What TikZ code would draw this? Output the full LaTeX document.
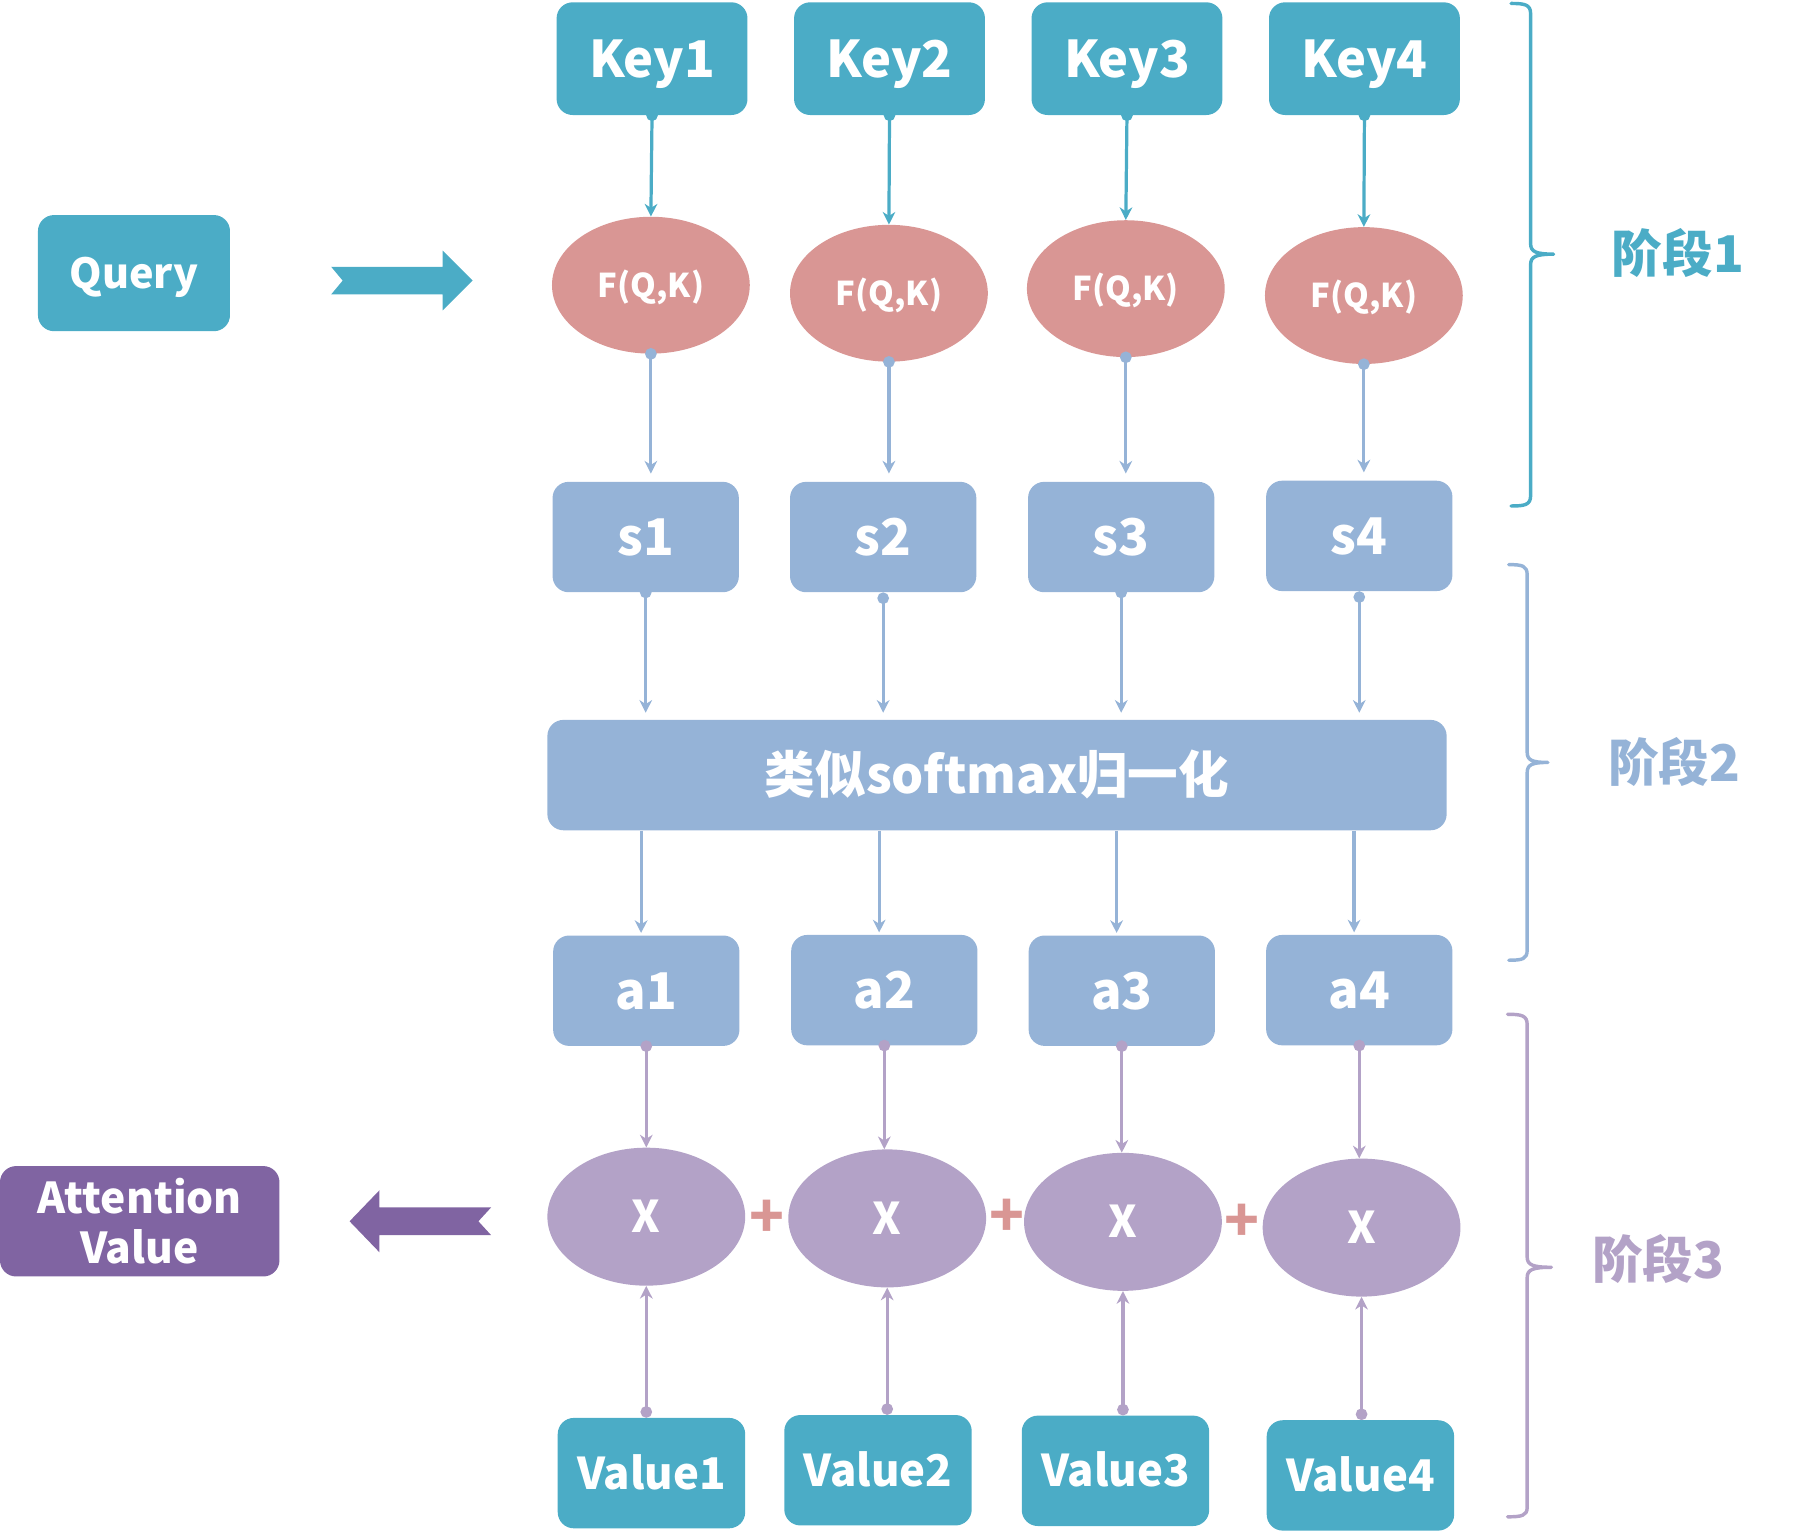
\documentclass[tikz,border=0pt]{standalone}
\usepackage{fontspec}
\setmainfont{Noto Sans CJK SC}
\usepackage{tikz}
\usetikzlibrary{arrows.meta,shapes.geometric,positioning}

\definecolor{keyteal}{HTML}{4BACC6}
\definecolor{fqpink}{HTML}{D99694}
\definecolor{scoreblue}{HTML}{95B3D7}
\definecolor{mulpurple}{HTML}{B3A2C7}
\definecolor{outpurple}{HTML}{8064A2}

\begin{document}
\begin{tikzpicture}[x=1pt,y=-1pt,
  box/.style={shape=rectangle,rounded corners=14pt,inner sep=0pt,text=white,font=\bfseries\fontsize{44}{48}\selectfont,text height=32pt,text depth=0pt},
  keybox/.style={box,fill=keyteal,minimum width=166pt,minimum height=98pt},
  scorebox/.style={box,fill=scoreblue,minimum width=162pt,minimum height=96pt},
  valbox/.style={box,fill=keyteal,minimum width=163pt,minimum height=96pt,font=\bfseries\fontsize{38}{42}\selectfont,text height=28pt},
  oval/.style={shape=ellipse,inner sep=0pt,minimum width=172pt,text=white,text depth=0pt},
  fqoval/.style={oval,fill=fqpink,minimum height=119pt,font=\bfseries\fontsize{28.5}{32}\selectfont,text height=21pt},
  muloval/.style={oval,fill=mulpurple,minimum height=120pt,font=\bfseries\fontsize{38}{42}\selectfont,text height=28pt},
  plus/.style={text=fqpink,font=\bfseries\fontsize{50}{54}\selectfont,inner sep=0pt},
  stage/.style={font=\bfseries\fontsize{44}{48}\selectfont,inner sep=0pt},
  link/.style={line width=2.8pt,{Circle[length=10pt]}-{Stealth[length=11pt,width=11pt,inset=3.5pt]}},
  flow/.style={line width=2.8pt,-{Stealth[length=11pt,width=11pt,inset=3.5pt]}},
  bracket/.style={line width=3pt,line cap=round,line join=round}]
\useasboundingbox (0,0) rectangle (1567,1331);

% keys and query
\node[keybox] (k1) at (567,51) {Key1};
\node[keybox] (k2) at (773.5,51) {Key2};
\node[keybox] (k3) at (980,51) {Key3};
\node[keybox] (k4) at (1186.5,51) {Key4};
\node[box,fill=keyteal,minimum width=167pt,minimum height=101pt,font=\bfseries\fontsize{36}{40}\selectfont,text height=26.5pt] (q) at (116.5,237.5) {Query};
\fill[keyteal] (288,232) -- (385,232) -- (385,218) -- (411,244) -- (385,270) -- (385,256) -- (288,256) -- (298,244) -- cycle;

% similarity
\node[fqoval] (f1) at (566,248) {F(Q,K)};
\node[fqoval] (f2) at (773,255) {F(Q,K)};
\node[fqoval] (f3) at (979,251) {F(Q,K)};
\node[fqoval] (f4) at (1186,257) {F(Q,K)};

\node[scorebox] (s1) at (561.5,467) {s1};
\node[scorebox] (s2) at (768,467) {s2};
\node[scorebox] (s3) at (975,467) {s3};
\node[scorebox] (s4) at (1182,466) {s4};

\node[box,fill=scoreblue,minimum width=782pt,minimum height=96pt,font=\bfseries\fontsize{44}{48}\selectfont] (sm) at (867,674) {类似softmax归一化};

\node[scorebox] (a1) at (562,861.5) {a1};
\node[scorebox] (a2) at (769,861) {a2};
\node[scorebox] (a3) at (975.5,861.5) {a3};
\node[scorebox] (a4) at (1182,861) {a4};

% weighted sum
\node[muloval] (x1) at (562,1058) {X};
\node[muloval] (x2) at (771.5,1059.5) {X};
\node[muloval] (x3) at (976.5,1062.5) {X};
\node[muloval] (x4) at (1184,1067.5) {X};
\node[plus] (p1) at (667,1060) {+};
\node[plus] (p2) at (876,1059) {+};
\node[plus] (p3) at (1080,1063) {+};

\node[valbox] (v1) at (566.5,1281) {Value1};
\node[valbox] (v2) at (763.5,1278.5) {Value2};
\node[valbox] (v3) at (970,1279) {Value3};
\node[valbox] (v4) at (1183,1283) {Value4};

\node[shape=rectangle,rounded corners=14pt,fill=outpurple,text=white,minimum width=243pt,minimum height=96pt,align=center,font=\bfseries\fontsize{37}{43}\selectfont] (att) at (121.5,1062) {Attention\\Value};
\fill[outpurple] (427,1050) -- (330,1050) -- (330,1035) -- (304,1062) -- (330,1089) -- (330,1074) -- (427,1074) -- (416,1062) -- cycle;

% connectors
\draw[link,keyteal,shorten <=-5pt] (k1.south) -- (f1.north);
\draw[link,keyteal,shorten <=-5pt] (k2.south) -- (f2.north);
\draw[link,keyteal,shorten <=-5pt] (k3.south) -- (f3.north);
\draw[link,keyteal,shorten <=-5pt] (k4.south) -- (f4.north);

\draw[link,scoreblue,shorten <=-5pt,shorten >=7pt] (f1.south) -- (f1.south |- s1.north);
\draw[link,scoreblue,shorten <=-5pt,shorten >=7pt] (f2.south) -- (f2.south |- s2.north);
\draw[link,scoreblue,shorten <=-5pt,shorten >=7pt] (f3.south) -- (f3.south |- s3.north);
\draw[link,scoreblue,shorten <=-5pt,shorten >=7pt] (f4.south) -- (f4.south |- s4.north);

\draw[link,scoreblue,shorten <=-5pt,shorten >=6pt] (s1.south) -- (s1.south |- sm.north);
\draw[link,scoreblue,shorten >=6pt] (s2.south) -- (s2.south |- sm.north);
\draw[link,scoreblue,shorten <=-5pt,shorten >=6pt] (s3.south) -- (s3.south |- sm.north);
\draw[link,scoreblue,shorten >=6pt] (s4.south) -- (s4.south |- sm.north);

\draw[flow,scoreblue,shorten >=2pt] ([xshift=-4.5pt]a1.north |- sm.south) -- ([xshift=-4.5pt]a1.north);
\draw[flow,scoreblue,shorten >=2pt] ([xshift=-4.5pt]a2.north |- sm.south) -- ([xshift=-4.5pt]a2.north);
\draw[flow,scoreblue,shorten >=2pt] ([xshift=-4.5pt]a3.north |- sm.south) -- ([xshift=-4.5pt]a3.north);
\draw[flow,scoreblue,shorten >=2pt] ([xshift=-4.5pt]a4.north |- sm.south) -- ([xshift=-4.5pt]a4.north);

\draw[link,mulpurple,shorten <=-5pt] (a1.south) -- (a1.south |- x1.north);
\draw[link,mulpurple,shorten <=-5pt] (a2.south) -- (a2.south |- x2.north);
\draw[link,mulpurple,shorten <=-5pt] (a3.south) -- (a3.south |- x3.north);
\draw[link,mulpurple,shorten <=-5pt] (a4.south) -- (a4.south |- x4.north);

\draw[link,mulpurple] (x1.south |- v1.north) -- (x1.south);
\draw[link,mulpurple] (x2.south |- v2.north) -- (x2.south);
\draw[link,mulpurple] (x3.south |- v3.north) -- (x3.south);
\draw[link,mulpurple] (x4.south |- v4.north) -- (x4.south);

% stages
\draw[bracket,keyteal] (1314,3) .. controls (1326,3) and (1331,4) .. (1331,12) -- (1331,212) .. controls (1331,219) and (1336,221) .. (1351,221) .. controls (1336,221) and (1331,223) .. (1331,230) -- (1331,431) .. controls (1331,439) and (1326,440) .. (1314,440);
\draw[bracket,scoreblue] (1312,491) .. controls (1324,491) and (1328,492) .. (1328,500) -- (1328,654) .. controls (1328,661) and (1332,663) .. (1346,663) .. controls (1332,663) and (1328,665) .. (1328,672) -- (1328,826) .. controls (1328,834) and (1324,835) .. (1312,835);
\draw[bracket,mulpurple] (1311,882) .. controls (1323,882) and (1328,883) .. (1328,891) -- (1328,1093) .. controls (1328,1100) and (1333,1102) .. (1349,1102) .. controls (1333,1102) and (1328,1104) .. (1328,1111) -- (1328,1311) .. controls (1328,1318) and (1323,1319) .. (1311,1319);
\node[stage,text=keyteal] (st1) at (1459,220) {阶段1};
\node[stage,text=scoreblue] (st2) at (1456,663) {阶段2};
\node[stage,text=mulpurple] (st3) at (1442,1095) {阶段3};
\end{tikzpicture}
\end{document}
